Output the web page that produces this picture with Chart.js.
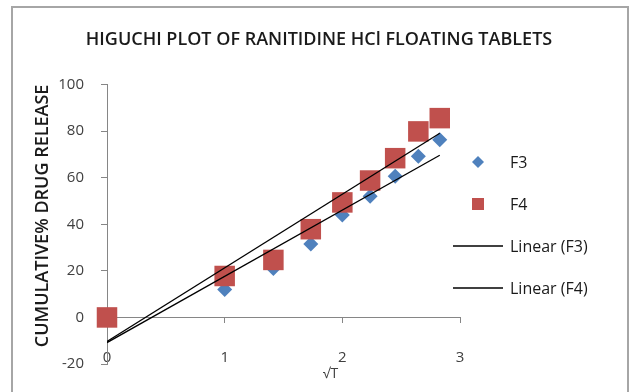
<!doctype html>
<html lang="en">
  <head>
    <meta charset="UTF-8" />
    <title>Higuchi Plot</title>
    <script src="https://cdn.jsdelivr.net/npm/chart.js"></script>
    <style>
      html, body { margin: 0; padding: 0; background: #fff; }
    </style>
  </head>
  <body>
    <canvas id="myChart" width="630" height="392"></canvas>
    <script>
      // square root of time (hours)
      const rootT = [0, 1, 1.414, 1.732, 2, 2.236, 2.449, 2.646, 2.828]
      // cumulative % drug release
      const releaseF3 = [0, 12, 21, 31.5, 44, 52, 60.6, 69.2, 76.3]
      const releaseF4 = [0, 17.8, 24.7, 37.9, 49.4, 58.8, 68.4, 79.9, 85.6]
      const xTicks = [0, 1, 2, 3]
      const yTicks = [-20, 0, 20, 40, 60, 80, 100]

      const FONT = "'Open Sans', 'Liberation Sans', sans-serif"
      Chart.defaults.font.family = FONT

      const toPoints = (ys) => rootT.map((x, i) => ({ x: x, y: ys[i] }))

      // least squares line, same as excel's linear trendline
      const linearFit = (xs, ys) => {
        const n = xs.length
        const mx = xs.reduce((a, b) => a + b, 0) / n
        const my = ys.reduce((a, b) => a + b, 0) / n
        let sxy = 0
        let sxx = 0
        xs.forEach((x, i) => {
          sxy += (x - mx) * (ys[i] - my)
          sxx += (x - mx) * (x - mx)
        })
        const slope = sxy / sxx
        const icpt = my - slope * mx
        return [xs[0], xs[n - 1]].map((x) => ({ x: x, y: icpt + slope * x }))
      }

      const setTicks = (list) => (scale) => {
        scale.ticks = list.map((v) => ({ value: v }))
      }

      // frame round the whole chart + the off-centre x title
      const frame = {
        id: 'frame',
        beforeDraw(chart) {
          const ctx = chart.ctx
          ctx.save()
          ctx.fillStyle = '#fff'
          ctx.fillRect(0, 0, chart.width, chart.height)
          ctx.strokeStyle = '#a6a6a6'
          ctx.lineWidth = 2
          ctx.strokeRect(12, 7, 616, 400)
          ctx.restore()
        },
        afterDraw(chart) {
          const ctx = chart.ctx
          ctx.save()
          ctx.font = '14px ' + FONT
          ctx.fillStyle = '#404040'
          ctx.textAlign = 'center'
          ctx.textBaseline = 'middle'
          ctx.fillText('√T', chart.scales.x.getPixelForValue(1.9), 374)
          ctx.restore()
        }
      }

      // legend on the right: F3, F4, Linear (F3), Linear (F4)
      const sideLegend = {
        id: 'sideLegend',
        afterDraw(chart) {
          const ctx = chart.ctx
          const helpers = Chart.helpers
          ctx.save()
          ctx.font = '16px ' + FONT
          ctx.textBaseline = 'middle'
          chart.data.datasets.forEach((ds, i) => {
            const y = 162 + i * 42
            if (ds.type === 'line') {
              ctx.strokeStyle = ds.borderColor
              ctx.lineWidth = ds.borderWidth
              ctx.beginPath()
              ctx.moveTo(453, y)
              ctx.lineTo(503, y)
              ctx.stroke()
            } else {
              ctx.fillStyle = ds.backgroundColor
              helpers.drawPoint(ctx, {
                pointStyle: ds.pointStyle,
                radius: ds.legendRadius,
                borderWidth: 0
              }, 478, y)
            }
            ctx.fillStyle = '#1a1a1a'
            ctx.fillText(ds.label, 510, y + 1)
          })
          ctx.restore()
        }
      }

      const data = {
        datasets: [
          {
            label: 'F3',
            data: toPoints(releaseF3),
            pointStyle: 'rectRot',
            pointRadius: 7.5,
            legendRadius: 6,
            backgroundColor: '#4F81BD',
            borderWidth: 0,
            clip: false,
            order: 3
          },
          {
            label: 'F4',
            data: toPoints(releaseF4),
            pointStyle: 'rect',
            pointRadius: 14.5,
            legendRadius: 8.5,
            backgroundColor: '#C0504D',
            borderWidth: 0,
            clip: false,
            order: 2
          },
          {
            type: 'line',
            label: 'Linear (F3)',
            data: linearFit(rootT, releaseF3),
            borderColor: '#000',
            borderWidth: 1.3,
            pointRadius: 0,
            order: 1
          },
          {
            type: 'line',
            label: 'Linear (F4)',
            data: linearFit(rootT, releaseF4),
            borderColor: '#000',
            borderWidth: 1.3,
            pointRadius: 0,
            order: 0
          }
        ]
      }

      const config = {
        type: 'scatter',
        data: data,
        options: {
          responsive: false,
          animation: false,
          events: [],
          layout: { padding: { left: 14, right: 6, top: 0, bottom: 28 } },
          plugins: {
            legend: { display: false },
            tooltip: { enabled: false },
            title: {
              display: true,
              text: 'HIGUCHI PLOT OF RANITIDINE HCl FLOATING TABLETS',
              color: '#1a1a1a',
              font: { size: 18, weight: '600' },
              padding: { top: 29, bottom: 34 }
            }
          },
          scales: {
            // horizontal axis crosses at y = 0, labels hang down to the bottom
            x: {
              type: 'linear',
              position: { y: 0 },
              min: 0,
              max: 3,
              afterBuildTicks: setTicks(xTicks),
              grid: { drawOnChartArea: false, drawTicks: true, tickLength: 5, color: '#868686' },
              border: { color: '#868686', width: 1 },
              ticks: { padding: 26, color: '#404040', font: { size: 15 } }
            },
            y: {
              type: 'linear',
              position: 'left',
              min: -20,
              max: 100,
              afterBuildTicks: setTicks(yTicks),
              grid: { drawOnChartArea: false, drawTicks: true, tickLength: 6, color: '#868686' },
              border: { color: '#868686', width: 1 },
              ticks: { padding: 17, color: '#404040', font: { size: 15 } },
              title: {
                display: true,
                text: 'CUMULATIVE% DRUG RELEASE',
                align: 'end',
                color: '#1a1a1a',
                font: { size: 18, weight: '600' },
                padding: { top: 18, bottom: 0 }
              },
              afterFit: (s) => { s.width = 93 }
            },
            // empty space on the right for the legend
            yLegend: {
              type: 'linear',
              position: 'right',
              min: -20,
              max: 100,
              grid: { display: false },
              border: { display: false },
              ticks: { display: false },
              afterFit: (s) => { s.width = 164 }
            }
          }
        },
        plugins: [frame, sideLegend]
      }

      const myChart = new Chart(document.getElementById('myChart').getContext('2d'), config)
    </script>
  </body>
</html>
